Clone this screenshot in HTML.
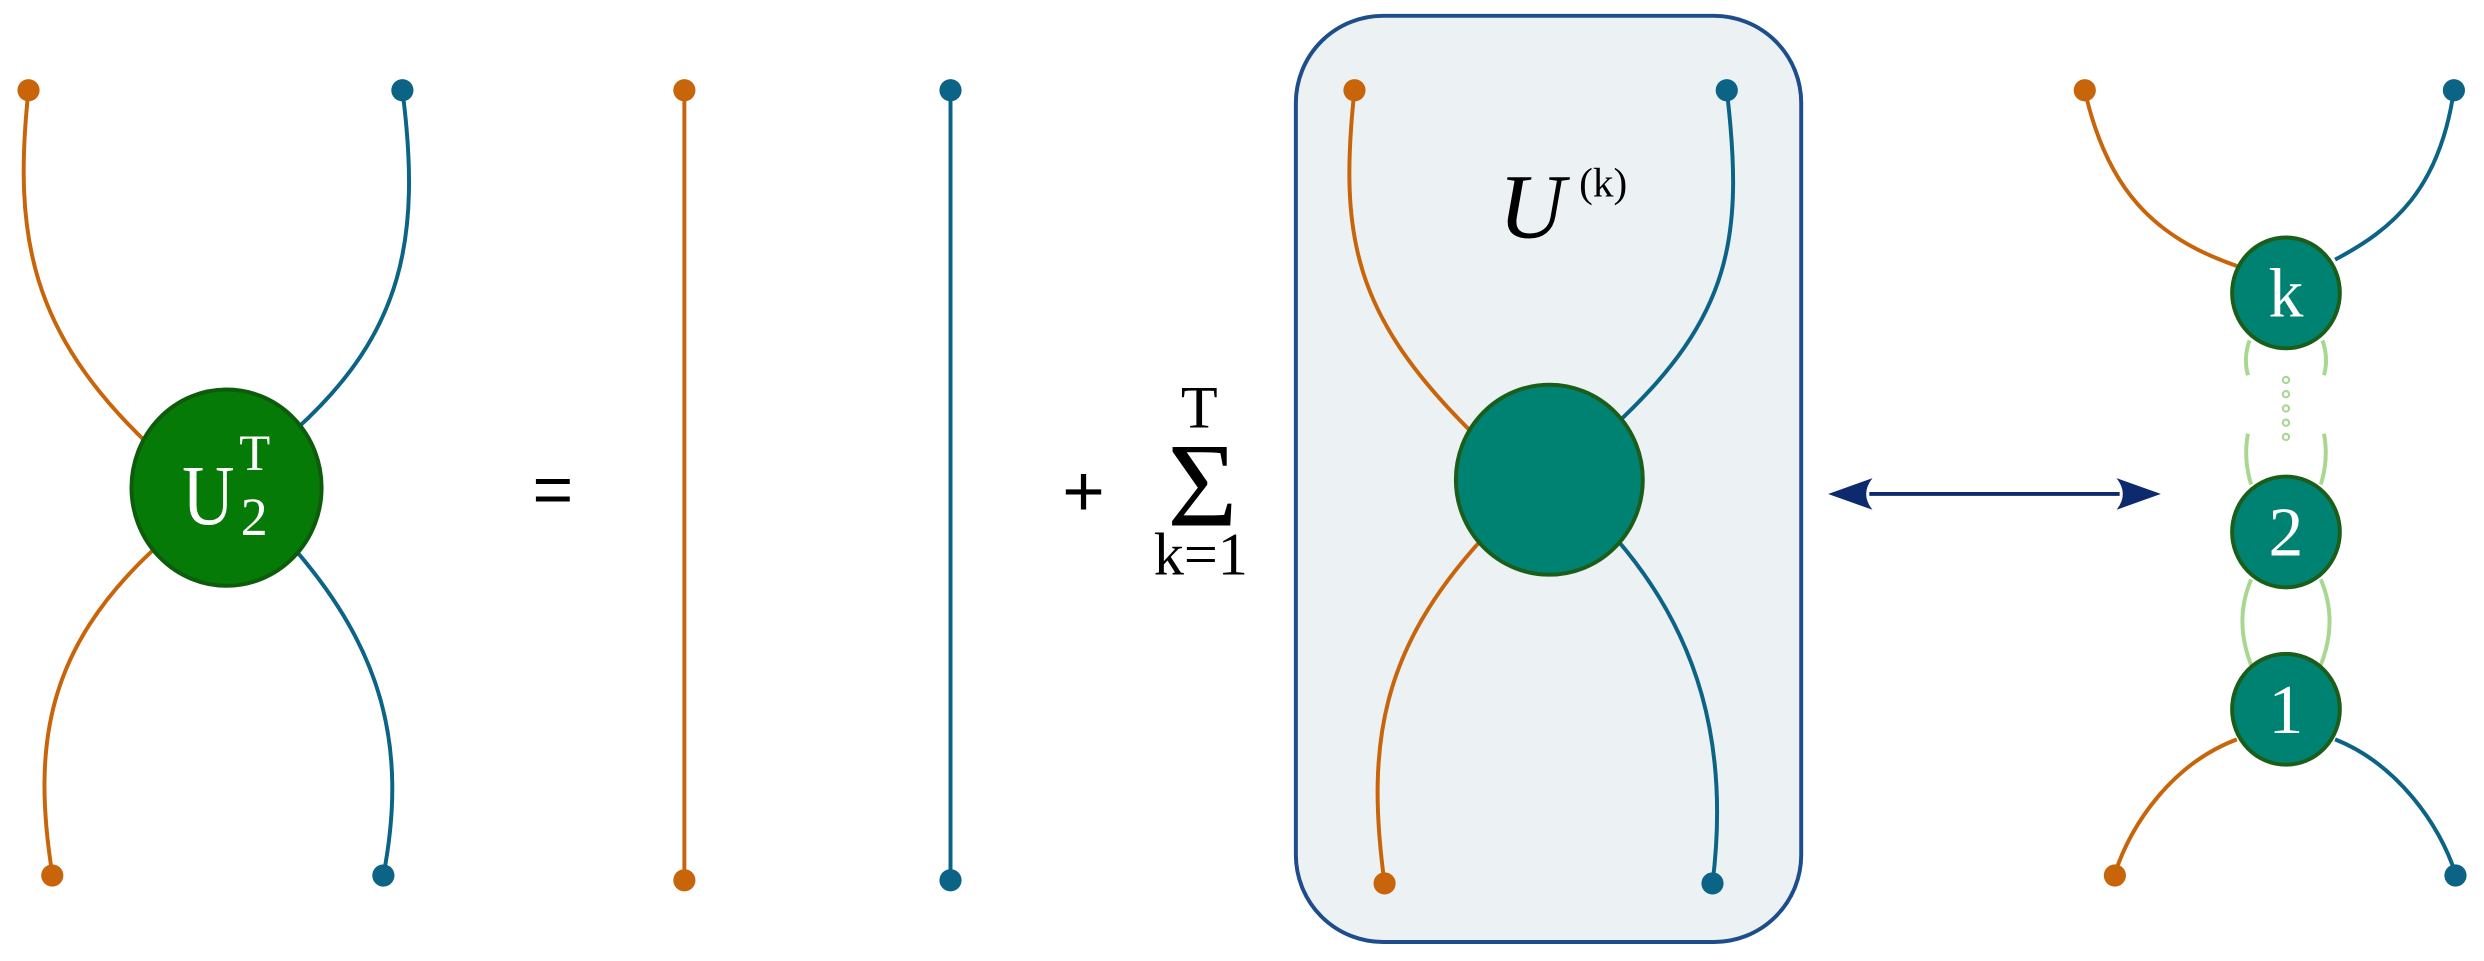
<!DOCTYPE html>
<html><head><style>html,body{margin:0;padding:0;background:#fff}svg{display:block}</style></head><body>
<svg width="2484" height="961" viewBox="0 0 1568 607" preserveAspectRatio="none" xmlns="http://www.w3.org/2000/svg">
<defs>
<marker id="ah" viewBox="0 0 28 20" refX="2" refY="10" markerWidth="28" markerHeight="20" markerUnits="userSpaceOnUse" orient="auto-start-reverse">
<path d="M28,10 L0,0 Q8,10 0,20 Z" fill="#0d2a6e"/></marker>
</defs>
<g fill="none" stroke-width="2.5">
<path d="M18,57 C8,150 20,210 93,280" stroke="#c8650a"/>
<path d="M254,57 C266,150 255,210 186,272" stroke="#0b6386"/>
<path d="M96,348 C30,410 20,470 33,552" stroke="#c8650a"/>
<path d="M187,348 C240,410 258,470 242,553" stroke="#0b6386"/>
<line x1="432" y1="57" x2="432" y2="555" stroke="#c8650a"/>
<line x1="600" y1="57" x2="600" y2="555" stroke="#0b6386"/>
</g>
<g fill="#c8650a"><circle cx="18" cy="57" r="7"/><circle cx="33" cy="553" r="7"/><circle cx="432" cy="57" r="7"/><circle cx="432" cy="556" r="7"/></g>
<g fill="#0b6386"><circle cx="254" cy="57" r="7"/><circle cx="242" cy="553" r="7"/><circle cx="600" cy="57" r="7"/><circle cx="600" cy="556" r="7"/></g>
<ellipse cx="143" cy="308" rx="60" ry="62" fill="#067a06" stroke="#0c5c0c" stroke-width="2.5"/>
<g font-family="Liberation Serif, serif" fill="#fff">
<text x="115" y="331" font-size="54" textLength="33" lengthAdjust="spacingAndGlyphs">U</text>
<text x="151" y="297" font-size="32">T</text>
<text x="152" y="338" font-size="34">2</text>
</g>
<g font-family="Liberation Sans, sans-serif" fill="#000" text-anchor="middle">
<text x="349" y="324" font-size="44">=</text>
<text x="684" y="326" font-size="46">+</text>
</g>
<g font-family="Liberation Serif, serif" fill="#000" text-anchor="middle">
<text x="757" y="270" font-size="38">T</text>
<text x="759" y="332" font-size="76">Σ</text>
<text x="758" y="363" font-size="38">k=1</text>
</g>
<rect x="818" y="10" width="319" height="585" rx="55" fill="#ecf1f4" stroke="#1e4d8c" stroke-width="2.5"/>
<g fill="none" stroke-width="2.5">
<path d="M855,57 C845,150 855,200 930,274" stroke="#c8650a"/>
<path d="M1090,57 C1101,150 1093,200 1020,268" stroke="#0b6386"/>
<path d="M936,340 C872,410 862,470 874,558" stroke="#c8650a"/>
<path d="M1020,340 C1072,400 1092,470 1081,558" stroke="#0b6386"/>
</g>
<circle cx="855" cy="57" r="7" fill="#c8650a"/><circle cx="874" cy="558" r="7" fill="#c8650a"/>
<circle cx="1090" cy="57" r="7" fill="#0b6386"/><circle cx="1081" cy="558" r="7" fill="#0b6386"/>
<ellipse cx="978" cy="303" rx="59" ry="60" fill="#008272" stroke="#1a5e1a" stroke-width="2.5"/>
<text x="946" y="150" font-family="Liberation Serif, serif" font-style="italic" font-size="58" fill="#000">U</text>
<text x="1012" y="124" font-family="Liberation Serif, serif" font-size="26" fill="#000" text-anchor="middle">(k)</text>
<line x1="1180" y1="312" x2="1338" y2="312" stroke="#0d2a6e" stroke-width="2.5" marker-start="url(#ah)" marker-end="url(#ah)"/>
<g fill="none" stroke-width="2.5">
<path d="M1316,57 C1330,120 1360,150 1412,168" stroke="#c8650a"/>
<path d="M1549,57 C1540,120 1510,145 1474,164" stroke="#0b6386"/>
<path d="M1412,467 C1372,482 1345,520 1335,552" stroke="#c8650a"/>
<path d="M1474,467 C1512,482 1540,520 1550,552" stroke="#0b6386"/>
</g>
<g fill="none" stroke="#a8d890" stroke-width="2.5">
<path d="M1420,215 Q1416,226 1419,237"/><path d="M1466,215 Q1470,226 1467,237"/>
<path d="M1419,274 Q1416,290 1421,306"/><path d="M1467,274 Q1470,290 1465,306"/>
<path d="M1421,366 Q1410,392 1421,420"/><path d="M1465,366 Q1476,392 1465,420"/>
</g>
<g fill="none" stroke="#a8d890" stroke-width="1.3">
<circle cx="1443" cy="240" r="2"/><circle cx="1443" cy="249" r="2"/><circle cx="1443" cy="258" r="2"/><circle cx="1443" cy="267" r="2"/><circle cx="1443" cy="276" r="2"/>
</g>
<g fill="#008272" stroke="#1a5e1a" stroke-width="2.5">
<ellipse cx="1443" cy="185" rx="34" ry="35"/>
<ellipse cx="1443" cy="336" rx="34" ry="35"/>
<ellipse cx="1443" cy="448" rx="34" ry="35"/>
</g>
<g font-family="Liberation Serif, serif" font-size="44" fill="#fff" text-anchor="middle">
<text x="1443" y="200">k</text><text x="1443" y="351">2</text><text x="1443" y="463">1</text>
</g>
<circle cx="1316" cy="57" r="7" fill="#c8650a"/><circle cx="1335" cy="553" r="7" fill="#c8650a"/>
<circle cx="1549" cy="57" r="7" fill="#0b6386"/><circle cx="1550" cy="553" r="7" fill="#0b6386"/>
</svg>
</body></html>
